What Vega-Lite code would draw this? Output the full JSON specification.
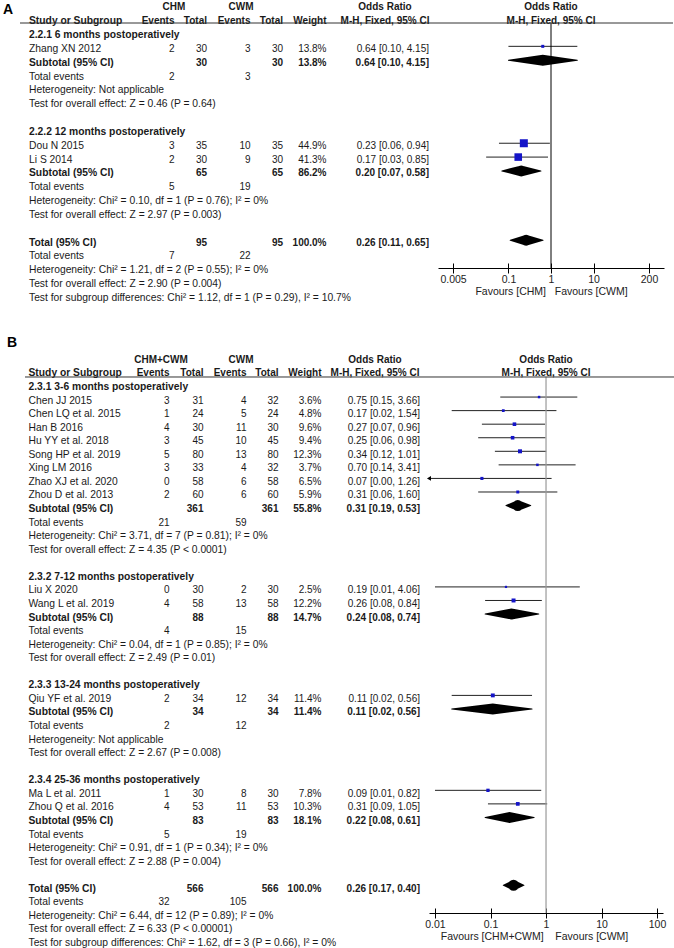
{
  "$schema": "https://vega.github.io/schema/vega-lite/v6.json",
  "padding": 0,
  "background": "white",
  "spacing": 0,
  "config": {"view": {"stroke": null}, "font": "Liberation Sans", "text": {"font": "Liberation Sans"}},
  "datasets": {
    "A": [
      {"row": -2, "kind": "top", "tag": "A", "g1": "CHM", "g2": "CWM", "orh": "Odds Ratio"},
      {"row": -1, "kind": "header", "label": "Study or Subgroup", "e1": "Events", "t1": "Total", "e2": "Events", "t2": "Total", "wt": "Weight", "orh": "M-H, Fixed, 95% CI"},
      {"row": 0, "kind": "group", "label": "2.2.1 6 months postoperatively"},
      {"row": 1, "kind": "study", "label": "Zhang XN 2012", "e1": "2", "t1": "30", "e2": "3", "t2": "30", "wt": "13.8%", "or": "0.64 [0.10, 4.15]", "est": 0.64, "lo": 0.10, "hi": 4.15, "w": 13.8},
      {"row": 2, "kind": "subtotal", "label": "Subtotal (95% CI)", "t1": "30", "t2": "30", "wt": "13.8%", "or": "0.64 [0.10, 4.15]", "est": 0.64, "lo": 0.10, "hi": 4.15},
      {"row": 3, "kind": "events", "label": "Total events", "e1": "2", "e2": "3"},
      {"row": 4, "kind": "het", "label": "Heterogeneity: Not applicable"},
      {"row": 5, "kind": "test", "label": "Test for overall effect: Z = 0.46 (P = 0.64)"},
      {"row": 7, "kind": "group", "label": "2.2.2 12 months postoperatively"},
      {"row": 8, "kind": "study", "label": "Dou N 2015", "e1": "3", "t1": "35", "e2": "10", "t2": "35", "wt": "44.9%", "or": "0.23 [0.06, 0.94]", "est": 0.23, "lo": 0.06, "hi": 0.94, "w": 44.9},
      {"row": 9, "kind": "study", "label": "Li S 2014", "e1": "2", "t1": "30", "e2": "9", "t2": "30", "wt": "41.3%", "or": "0.17 [0.03, 0.85]", "est": 0.17, "lo": 0.03, "hi": 0.85, "w": 41.3},
      {"row": 10, "kind": "subtotal", "label": "Subtotal (95% CI)", "t1": "65", "t2": "65", "wt": "86.2%", "or": "0.20 [0.07, 0.58]", "est": 0.20, "lo": 0.07, "hi": 0.58},
      {"row": 11, "kind": "events", "label": "Total events", "e1": "5", "e2": "19"},
      {"row": 12, "kind": "het", "label": "Heterogeneity: Chi² = 0.10, df = 1 (P = 0.76); I² = 0%"},
      {"row": 13, "kind": "test", "label": "Test for overall effect: Z = 2.97 (P = 0.003)"},
      {"row": 15, "kind": "total", "label": "Total (95% CI)", "t1": "95", "t2": "95", "wt": "100.0%", "or": "0.26 [0.11, 0.65]", "est": 0.26, "lo": 0.11, "hi": 0.65},
      {"row": 16, "kind": "events", "label": "Total events", "e1": "7", "e2": "22"},
      {"row": 17, "kind": "het", "label": "Heterogeneity: Chi² = 1.21, df = 2 (P = 0.55); I² = 0%"},
      {"row": 18, "kind": "test", "label": "Test for overall effect: Z = 2.90 (P = 0.004)"},
      {"row": 19, "kind": "subgroup", "label": "Test for subgroup differences: Chi² = 1.12, df = 1 (P = 0.29), I² = 10.7%"}
    ],
    "B": [
      {"row": -3, "kind": "letter", "tag": "B"},
      {"row": -2, "kind": "top", "g1": "CHM+CWM", "g2": "CWM", "orh": "Odds Ratio"},
      {"row": -1, "kind": "header", "label": "Study or Subgroup", "e1": "Events", "t1": "Total", "e2": "Events", "t2": "Total", "wt": "Weight", "orh": "M-H, Fixed, 95% CI"},
      {"row": 0, "kind": "group", "label": "2.3.1 3-6 months postoperatively"},
      {"row": 1, "kind": "study", "label": "Chen JJ 2015", "e1": "3", "t1": "31", "e2": "4", "t2": "32", "wt": "3.6%", "or": "0.75 [0.15, 3.66]", "est": 0.75, "lo": 0.15, "hi": 3.66, "w": 3.6},
      {"row": 2, "kind": "study", "label": "Chen LQ et al. 2015", "e1": "1", "t1": "24", "e2": "5", "t2": "24", "wt": "4.8%", "or": "0.17 [0.02, 1.54]", "est": 0.17, "lo": 0.02, "hi": 1.54, "w": 4.8},
      {"row": 3, "kind": "study", "label": "Han B 2016", "e1": "4", "t1": "30", "e2": "11", "t2": "30", "wt": "9.6%", "or": "0.27 [0.07, 0.96]", "est": 0.27, "lo": 0.07, "hi": 0.96, "w": 9.6},
      {"row": 4, "kind": "study", "label": "Hu YY et al. 2018", "e1": "3", "t1": "45", "e2": "10", "t2": "45", "wt": "9.4%", "or": "0.25 [0.06, 0.98]", "est": 0.25, "lo": 0.06, "hi": 0.98, "w": 9.4},
      {"row": 5, "kind": "study", "label": "Song HP et al. 2019", "e1": "5", "t1": "80", "e2": "13", "t2": "80", "wt": "12.3%", "or": "0.34 [0.12, 1.01]", "est": 0.34, "lo": 0.12, "hi": 1.01, "w": 12.3},
      {"row": 6, "kind": "study", "label": "Xing LM 2016", "e1": "3", "t1": "33", "e2": "4", "t2": "32", "wt": "3.7%", "or": "0.70 [0.14, 3.41]", "est": 0.70, "lo": 0.14, "hi": 3.41, "w": 3.7},
      {"row": 7, "kind": "study", "label": "Zhao XJ et al. 2020", "e1": "0", "t1": "58", "e2": "6", "t2": "58", "wt": "6.5%", "or": "0.07 [0.00, 1.26]", "est": 0.07, "lo": 0.004, "hi": 1.26, "w": 6.5},
      {"row": 8, "kind": "study", "label": "Zhou D et al. 2013", "e1": "2", "t1": "60", "e2": "6", "t2": "60", "wt": "5.9%", "or": "0.31 [0.06, 1.60]", "est": 0.31, "lo": 0.06, "hi": 1.60, "w": 5.9},
      {"row": 9, "kind": "subtotal", "label": "Subtotal (95% CI)", "t1": "361", "t2": "361", "wt": "55.8%", "or": "0.31 [0.19, 0.53]", "est": 0.31, "lo": 0.19, "hi": 0.53},
      {"row": 10, "kind": "events", "label": "Total events", "e1": "21", "e2": "59"},
      {"row": 11, "kind": "het", "label": "Heterogeneity: Chi² = 3.71, df = 7 (P = 0.81); I² = 0%"},
      {"row": 12, "kind": "test", "label": "Test for overall effect: Z = 4.35 (P < 0.0001)"},
      {"row": 14, "kind": "group", "label": "2.3.2 7-12 months postoperatively"},
      {"row": 15, "kind": "study", "label": "Liu X 2020", "e1": "0", "t1": "30", "e2": "2", "t2": "30", "wt": "2.5%", "or": "0.19 [0.01, 4.06]", "est": 0.19, "lo": 0.01, "hi": 4.06, "w": 2.5},
      {"row": 16, "kind": "study", "label": "Wang L et al. 2019", "e1": "4", "t1": "58", "e2": "13", "t2": "58", "wt": "12.2%", "or": "0.26 [0.08, 0.84]", "est": 0.26, "lo": 0.08, "hi": 0.84, "w": 12.2},
      {"row": 17, "kind": "subtotal", "label": "Subtotal (95% CI)", "t1": "88", "t2": "88", "wt": "14.7%", "or": "0.24 [0.08, 0.74]", "est": 0.24, "lo": 0.08, "hi": 0.74},
      {"row": 18, "kind": "events", "label": "Total events", "e1": "4", "e2": "15"},
      {"row": 19, "kind": "het", "label": "Heterogeneity: Chi² = 0.04, df = 1 (P = 0.85); I² = 0%"},
      {"row": 20, "kind": "test", "label": "Test for overall effect: Z = 2.49 (P = 0.01)"},
      {"row": 22, "kind": "group", "label": "2.3.3 13-24 months postoperatively"},
      {"row": 23, "kind": "study", "label": "Qiu YF et al. 2019", "e1": "2", "t1": "34", "e2": "12", "t2": "34", "wt": "11.4%", "or": "0.11 [0.02, 0.56]", "est": 0.11, "lo": 0.02, "hi": 0.56, "w": 11.4},
      {"row": 24, "kind": "subtotal", "label": "Subtotal (95% CI)", "t1": "34", "t2": "34", "wt": "11.4%", "or": "0.11 [0.02, 0.56]", "est": 0.11, "lo": 0.02, "hi": 0.56},
      {"row": 25, "kind": "events", "label": "Total events", "e1": "2", "e2": "12"},
      {"row": 26, "kind": "het", "label": "Heterogeneity: Not applicable"},
      {"row": 27, "kind": "test", "label": "Test for overall effect: Z = 2.67 (P = 0.008)"},
      {"row": 29, "kind": "group", "label": "2.3.4 25-36 months postoperatively"},
      {"row": 30, "kind": "study", "label": "Ma L et al. 2011", "e1": "1", "t1": "30", "e2": "8", "t2": "30", "wt": "7.8%", "or": "0.09 [0.01, 0.82]", "est": 0.09, "lo": 0.01, "hi": 0.82, "w": 7.8},
      {"row": 31, "kind": "study", "label": "Zhou Q et al. 2016", "e1": "4", "t1": "53", "e2": "11", "t2": "53", "wt": "10.3%", "or": "0.31 [0.09, 1.05]", "est": 0.31, "lo": 0.09, "hi": 1.05, "w": 10.3},
      {"row": 32, "kind": "subtotal", "label": "Subtotal (95% CI)", "t1": "83", "t2": "83", "wt": "18.1%", "or": "0.22 [0.08, 0.61]", "est": 0.22, "lo": 0.08, "hi": 0.61},
      {"row": 33, "kind": "events", "label": "Total events", "e1": "5", "e2": "19"},
      {"row": 34, "kind": "het", "label": "Heterogeneity: Chi² = 0.91, df = 1 (P = 0.34); I² = 0%"},
      {"row": 35, "kind": "test", "label": "Test for overall effect: Z = 2.88 (P = 0.004)"},
      {"row": 37, "kind": "total", "label": "Total (95% CI)", "t1": "566", "t2": "566", "wt": "100.0%", "or": "0.26 [0.17, 0.40]", "est": 0.26, "lo": 0.17, "hi": 0.40},
      {"row": 38, "kind": "events", "label": "Total events", "e1": "32", "e2": "105"},
      {"row": 39, "kind": "het", "label": "Heterogeneity: Chi² = 6.44, df = 12 (P = 0.89); I² = 0%"},
      {"row": 40, "kind": "test", "label": "Test for overall effect: Z = 6.33 (P < 0.00001)"},
      {"row": 41, "kind": "subgroup", "label": "Test for subgroup differences: Chi² = 1.62, df = 3 (P = 0.66), I² = 0%"}
    ]
  },
  "vconcat": [
    {
      "width": 674,
      "height": 320,
      "data": {"name": "A"},
      "encoding": {"y": {"field": "row", "type": "quantitative", "scale": {"domain": [0, 19], "range": [32.5, 295.5], "zero": false, "nice": false}, "axis": null}},
      "layer": [
        {"transform": [{"filter": "datum.kind == 'study'"}],
         "mark": {"type": "rule", "color": "#222", "strokeWidth": 1},
         "encoding": {"x": {"field": "lo", "type": "quantitative", "scale": {"type": "log", "domain": [0.00222, 450], "range": [438, 664], "clamp": true, "nice": false},
           "axis": {"orient": "bottom", "offset": -52, "values": [0.005, 0.1, 1, 10, 200], "format": "~g", "title": "Favours [CHM]\u00a0\u00a0\u00a0Favours [CWM]", "labelFont": "Liberation Sans", "labelFontSize": 10.5, "labelColor": "#222", "titleFont": "Liberation Sans", "titleFontSize": 10.5, "titleFontWeight": "normal", "titleColor": "#222", "domainColor": "#000", "tickColor": "#000", "tickSize": 5, "labelPadding": 1, "titlePadding": 2, "grid": false, "labelFlush": false, "labelOverlap": false}},
           "x2": {"field": "hi"}}},
        {"transform": [{"filter": "datum.kind == 'header'"}],
         "mark": {"type": "rule", "color": "#000", "strokeWidth": 1},
         "encoding": {"x": {"datum": 1, "type": "quantitative", "scale": {"type": "log", "domain": [0.00222, 450], "range": [438, 664], "clamp": true, "nice": false},
           "axis": {"orient": "bottom", "offset": -52, "values": [0.005, 0.1, 1, 10, 200], "labels": false, "domain": false, "title": null, "tickSize": -5, "tickColor": "#000", "grid": false}},
           "y": {"datum": -0.686, "type": "quantitative", "axis": null}, "y2": {"datum": 17.02}}},
        {"transform": [{"filter": "datum.kind == 'study'"}],
         "mark": {"type": "point", "shape": "square", "filled": true, "color": "#1414c8", "opacity": 1},
         "encoding": {"x": {"field": "est", "type": "quantitative", "scale": {"type": "log", "domain": [0.00222, 450], "range": [438, 664], "clamp": true, "nice": false}, "axis": null}, "size": {"field": "w", "type": "quantitative", "scale": {"domain": [13.8, 44.9], "range": [9, 64], "zero": false}, "legend": null}}},
        {"transform": [{"filter": "datum.kind == 'subtotal' || datum.kind == 'total'"}, {"fold": ["lo", "est", "hi"], "as": ["key", "v"]}],
         "mark": {"type": "trail", "color": "#000"},
         "encoding": {"x": {"field": "v", "type": "quantitative", "scale": {"type": "log", "domain": [0.00222, 450], "range": [438, 664], "clamp": true, "nice": false}, "axis": null}, "detail": {"field": "row", "type": "nominal"}, "size": {"condition": {"test": "datum.key == 'est'", "value": 11}, "value": 0}}},
        {"transform": [{"filter": "isValid(datum.orh)"}],
         "mark": {"type": "text", "align": "center", "baseline": "middle", "dy": 2.5, "fontSize": 10, "fontWeight": "bold", "color": "#1a1a1a"},
         "encoding": {"x": {"datum": 1, "type": "quantitative", "scale": {"type": "log", "domain": [0.00222, 450], "range": [438, 664], "clamp": true, "nice": false}, "axis": null}, "text": {"field": "orh", "type": "nominal"}}},
        {"transform": [{"filter": "isValid(datum.tag)"}],
         "mark": {"type": "text", "align": "left", "baseline": "middle", "dy": 5, "fontSize": 14, "fontWeight": "bold", "color": "#000"},
         "encoding": {"x": {"datum": "tag", "type": "nominal", "scale": {"type": "point", "domain": ["tag"], "range": [3, 3]}, "axis": null}, "text": {"field": "tag", "type": "nominal"}}},
        {"transform": [{"filter": "isValid(datum.label)"}],
         "mark": {"type": "text", "align": "left", "baseline": "middle", "dy": 2.5, "fontSize": 10.3, "color": "#1a1a1a", "fontWeight": {"expr": "indexof(['group','subtotal','total','header','top'], datum.kind) >= 0 ? 'bold' : 'normal'"}},
         "encoding": {"x": {"datum": "label", "type": "nominal", "scale": {"type": "point", "domain": ["label"], "range": [29, 29]}, "axis": null}, "text": {"field": "label", "type": "nominal"}}},
        {"transform": [{"filter": "isValid(datum.e1)"}],
         "mark": {"type": "text", "align": "right", "baseline": "middle", "dy": 2.5, "fontSize": 10, "color": "#1a1a1a", "fontWeight": {"expr": "indexof(['group','subtotal','total','header','top'], datum.kind) >= 0 ? 'bold' : 'normal'"}},
         "encoding": {"x": {"datum": "e1", "type": "nominal", "scale": {"type": "point", "domain": ["e1"], "range": [174.5, 174.5]}, "axis": null}, "text": {"field": "e1", "type": "nominal"}}},
        {"transform": [{"filter": "isValid(datum.t1)"}],
         "mark": {"type": "text", "align": "right", "baseline": "middle", "dy": 2.5, "fontSize": 10, "color": "#1a1a1a", "fontWeight": {"expr": "indexof(['group','subtotal','total','header','top'], datum.kind) >= 0 ? 'bold' : 'normal'"}},
         "encoding": {"x": {"datum": "t1", "type": "nominal", "scale": {"type": "point", "domain": ["t1"], "range": [207, 207]}, "axis": null}, "text": {"field": "t1", "type": "nominal"}}},
        {"transform": [{"filter": "isValid(datum.e2)"}],
         "mark": {"type": "text", "align": "right", "baseline": "middle", "dy": 2.5, "fontSize": 10, "color": "#1a1a1a", "fontWeight": {"expr": "indexof(['group','subtotal','total','header','top'], datum.kind) >= 0 ? 'bold' : 'normal'"}},
         "encoding": {"x": {"datum": "e2", "type": "nominal", "scale": {"type": "point", "domain": ["e2"], "range": [250.5, 250.5]}, "axis": null}, "text": {"field": "e2", "type": "nominal"}}},
        {"transform": [{"filter": "isValid(datum.t2)"}],
         "mark": {"type": "text", "align": "right", "baseline": "middle", "dy": 2.5, "fontSize": 10, "color": "#1a1a1a", "fontWeight": {"expr": "indexof(['group','subtotal','total','header','top'], datum.kind) >= 0 ? 'bold' : 'normal'"}},
         "encoding": {"x": {"datum": "t2", "type": "nominal", "scale": {"type": "point", "domain": ["t2"], "range": [283, 283]}, "axis": null}, "text": {"field": "t2", "type": "nominal"}}},
        {"transform": [{"filter": "isValid(datum.wt)"}],
         "mark": {"type": "text", "align": "right", "baseline": "middle", "dy": 2.5, "fontSize": 10, "color": "#1a1a1a", "fontWeight": {"expr": "indexof(['group','subtotal','total','header','top'], datum.kind) >= 0 ? 'bold' : 'normal'"}},
         "encoding": {"x": {"datum": "wt", "type": "nominal", "scale": {"type": "point", "domain": ["wt"], "range": [326.5, 326.5]}, "axis": null}, "text": {"field": "wt", "type": "nominal"}}},
        {"transform": [{"filter": "isValid(datum.or)"}],
         "mark": {"type": "text", "align": "right", "baseline": "middle", "dy": 2.5, "fontSize": 10, "color": "#1a1a1a", "fontWeight": {"expr": "indexof(['group','subtotal','total','header','top'], datum.kind) >= 0 ? 'bold' : 'normal'"}},
         "encoding": {"x": {"datum": "or", "type": "nominal", "scale": {"type": "point", "domain": ["or"], "range": [429, 429]}, "axis": null}, "text": {"field": "or", "type": "nominal"}}},
        {"transform": [{"filter": "isValid(datum.g1)"}],
         "mark": {"type": "text", "align": "center", "baseline": "middle", "dy": 2.5, "fontSize": 10, "color": "#1a1a1a", "fontWeight": "bold"},
         "encoding": {"x": {"datum": "g1", "type": "nominal", "scale": {"type": "point", "domain": ["g1"], "range": [174, 174]}, "axis": null}, "text": {"field": "g1", "type": "nominal"}}},
        {"transform": [{"filter": "isValid(datum.g2)"}],
         "mark": {"type": "text", "align": "center", "baseline": "middle", "dy": 2.5, "fontSize": 10, "color": "#1a1a1a", "fontWeight": "bold"},
         "encoding": {"x": {"datum": "g2", "type": "nominal", "scale": {"type": "point", "domain": ["g2"], "range": [241, 241]}, "axis": null}, "text": {"field": "g2", "type": "nominal"}}},
        {"transform": [{"filter": "isValid(datum.orh)"}],
         "mark": {"type": "text", "align": "center", "baseline": "middle", "dy": 2.5, "fontSize": 10, "color": "#1a1a1a", "fontWeight": "bold"},
         "encoding": {"x": {"datum": "orh", "type": "nominal", "scale": {"type": "point", "domain": ["orh"], "range": [385, 385]}, "axis": null}, "text": {"field": "orh", "type": "nominal"}}},
        {"transform": [{"filter": "datum.kind == 'header'"}],
         "mark": {"type": "rule", "color": "#333", "strokeWidth": 1},
         "encoding": {"x": {"datum": "u0", "type": "nominal", "scale": {"type": "point", "domain": ["u0", "u1"], "range": [20, 673], "padding": 0}, "axis": null}, "x2": {"datum": "u1"}, "y": {"datum": -0.686, "type": "quantitative", "axis": null}}}
      ],
      "resolve": {"scale": {"x": "independent", "size": "independent"}, "axis": {"x": "independent"}}
    },
    {
      "width": 674,
      "height": 628,
      "data": {"name": "B"},
      "encoding": {"y": {"field": "row", "type": "quantitative", "scale": {"domain": [0, 41], "range": [63.5, 619.5], "zero": false, "nice": false}, "axis": null}},
      "layer": [
        {"transform": [{"filter": "datum.kind == 'study'"}],
         "mark": {"type": "rule", "color": "#222", "strokeWidth": 1},
         "encoding": {"x": {"field": "lo", "type": "quantitative", "scale": {"type": "log", "domain": [0.0078, 128], "range": [429, 663], "clamp": true, "nice": false},
           "axis": {"orient": "bottom", "offset": -35, "values": [0.01, 0.1, 1, 10, 100], "format": "~g", "title": "Favours [CHM+CWM]\u00a0\u00a0\u00a0\u00a0Favours [CWM]", "titleX": 534, "titleAlign": "center", "labelFont": "Liberation Sans", "labelFontSize": 10.5, "labelColor": "#222", "titleFont": "Liberation Sans", "titleFontSize": 10.5, "titleFontWeight": "normal", "titleColor": "#222", "domainColor": "#000", "tickColor": "#000", "tickSize": 5, "labelPadding": 1, "titlePadding": 2, "grid": false, "labelFlush": false, "labelOverlap": false}},
           "x2": {"field": "hi"}}},
        {"transform": [{"filter": "datum.kind == 'header'"}],
         "mark": {"type": "rule", "color": "#999", "strokeWidth": 1.2},
         "encoding": {"x": {"datum": 1, "type": "quantitative", "scale": {"type": "log", "domain": [0.0078, 128], "range": [429, 663], "clamp": true, "nice": false},
           "axis": {"orient": "bottom", "offset": -35, "values": [0.01, 0.1, 1, 10, 100], "labels": false, "domain": false, "title": null, "tickSize": -5, "tickColor": "#000", "grid": false}},
           "y": {"datum": -0.48, "type": "quantitative", "axis": null}, "y2": {"datum": 39.05}}},
        {"transform": [{"filter": "datum.kind == 'study' && datum.lo < 0.0078"}],
         "mark": {"type": "point", "shape": "triangle-left", "filled": true, "color": "#000", "opacity": 1, "size": 22},
         "encoding": {"x": {"field": "lo", "type": "quantitative", "scale": {"type": "log", "domain": [0.0078, 128], "range": [429, 663], "clamp": true, "nice": false}, "axis": null}}},
        {"transform": [{"filter": "datum.kind == 'study'"}],
         "mark": {"type": "point", "shape": "square", "filled": true, "color": "#1414c8", "opacity": 1},
         "encoding": {"x": {"field": "est", "type": "quantitative", "scale": {"type": "log", "domain": [0.0078, 128], "range": [429, 663], "clamp": true, "nice": false}, "axis": null}, "size": {"field": "w", "type": "quantitative", "scale": {"domain": [2.5, 12.3], "range": [5, 16], "zero": false}, "legend": null}}},
        {"transform": [{"filter": "datum.kind == 'subtotal' || datum.kind == 'total'"}, {"fold": ["lo", "est", "hi"], "as": ["key", "v"]}],
         "mark": {"type": "trail", "color": "#000"},
         "encoding": {"x": {"field": "v", "type": "quantitative", "scale": {"type": "log", "domain": [0.0078, 128], "range": [429, 663], "clamp": true, "nice": false}, "axis": null}, "detail": {"field": "row", "type": "nominal"}, "size": {"condition": {"test": "datum.key == 'est'", "value": 11}, "value": 0}}},
        {"transform": [{"filter": "isValid(datum.orh)"}],
         "mark": {"type": "text", "align": "center", "baseline": "middle", "dy": 3.5, "fontSize": 10, "fontWeight": "bold", "color": "#1a1a1a"},
         "encoding": {"x": {"datum": 1, "type": "quantitative", "scale": {"type": "log", "domain": [0.0078, 128], "range": [429, 663], "clamp": true, "nice": false}, "axis": null}, "text": {"field": "orh", "type": "nominal"}}},
        {"transform": [{"filter": "isValid(datum.tag)"}],
         "mark": {"type": "text", "align": "left", "baseline": "middle", "dy": 0.5, "fontSize": 14, "fontWeight": "bold", "color": "#000"},
         "encoding": {"x": {"datum": "tag", "type": "nominal", "scale": {"type": "point", "domain": ["tag"], "range": [7, 7]}, "axis": null}, "text": {"field": "tag", "type": "nominal"}}},
        {"transform": [{"filter": "isValid(datum.label)"}],
         "mark": {"type": "text", "align": "left", "baseline": "middle", "dy": 3.5, "fontSize": 10.3, "color": "#1a1a1a", "fontWeight": {"expr": "indexof(['group','subtotal','total','header','top'], datum.kind) >= 0 ? 'bold' : 'normal'"}},
         "encoding": {"x": {"datum": "label", "type": "nominal", "scale": {"type": "point", "domain": ["label"], "range": [28.5, 28.5]}, "axis": null}, "text": {"field": "label", "type": "nominal"}}},
        {"transform": [{"filter": "isValid(datum.e1)"}],
         "mark": {"type": "text", "align": "right", "baseline": "middle", "dy": 3.5, "fontSize": 10, "color": "#1a1a1a", "fontWeight": {"expr": "indexof(['group','subtotal','total','header','top'], datum.kind) >= 0 ? 'bold' : 'normal'"}},
         "encoding": {"x": {"datum": "e1", "type": "nominal", "scale": {"type": "point", "domain": ["e1"], "range": [169.5, 169.5]}, "axis": null}, "text": {"field": "e1", "type": "nominal"}}},
        {"transform": [{"filter": "isValid(datum.t1)"}],
         "mark": {"type": "text", "align": "right", "baseline": "middle", "dy": 3.5, "fontSize": 10, "color": "#1a1a1a", "fontWeight": {"expr": "indexof(['group','subtotal','total','header','top'], datum.kind) >= 0 ? 'bold' : 'normal'"}},
         "encoding": {"x": {"datum": "t1", "type": "nominal", "scale": {"type": "point", "domain": ["t1"], "range": [203.5, 203.5]}, "axis": null}, "text": {"field": "t1", "type": "nominal"}}},
        {"transform": [{"filter": "isValid(datum.e2)"}],
         "mark": {"type": "text", "align": "right", "baseline": "middle", "dy": 3.5, "fontSize": 10, "color": "#1a1a1a", "fontWeight": {"expr": "indexof(['group','subtotal','total','header','top'], datum.kind) >= 0 ? 'bold' : 'normal'"}},
         "encoding": {"x": {"datum": "e2", "type": "nominal", "scale": {"type": "point", "domain": ["e2"], "range": [246.5, 246.5]}, "axis": null}, "text": {"field": "e2", "type": "nominal"}}},
        {"transform": [{"filter": "isValid(datum.t2)"}],
         "mark": {"type": "text", "align": "right", "baseline": "middle", "dy": 3.5, "fontSize": 10, "color": "#1a1a1a", "fontWeight": {"expr": "indexof(['group','subtotal','total','header','top'], datum.kind) >= 0 ? 'bold' : 'normal'"}},
         "encoding": {"x": {"datum": "t2", "type": "nominal", "scale": {"type": "point", "domain": ["t2"], "range": [278.5, 278.5]}, "axis": null}, "text": {"field": "t2", "type": "nominal"}}},
        {"transform": [{"filter": "isValid(datum.wt)"}],
         "mark": {"type": "text", "align": "right", "baseline": "middle", "dy": 3.5, "fontSize": 10, "color": "#1a1a1a", "fontWeight": {"expr": "indexof(['group','subtotal','total','header','top'], datum.kind) >= 0 ? 'bold' : 'normal'"}},
         "encoding": {"x": {"datum": "wt", "type": "nominal", "scale": {"type": "point", "domain": ["wt"], "range": [321.5, 321.5]}, "axis": null}, "text": {"field": "wt", "type": "nominal"}}},
        {"transform": [{"filter": "isValid(datum.or)"}],
         "mark": {"type": "text", "align": "right", "baseline": "middle", "dy": 3.5, "fontSize": 10, "color": "#1a1a1a", "fontWeight": {"expr": "indexof(['group','subtotal','total','header','top'], datum.kind) >= 0 ? 'bold' : 'normal'"}},
         "encoding": {"x": {"datum": "or", "type": "nominal", "scale": {"type": "point", "domain": ["or"], "range": [420, 420]}, "axis": null}, "text": {"field": "or", "type": "nominal"}}},
        {"transform": [{"filter": "isValid(datum.g1)"}],
         "mark": {"type": "text", "align": "center", "baseline": "middle", "dy": 3.5, "fontSize": 10, "color": "#1a1a1a", "fontWeight": "bold"},
         "encoding": {"x": {"datum": "g1", "type": "nominal", "scale": {"type": "point", "domain": ["g1"], "range": [161, 161]}, "axis": null}, "text": {"field": "g1", "type": "nominal"}}},
        {"transform": [{"filter": "isValid(datum.g2)"}],
         "mark": {"type": "text", "align": "center", "baseline": "middle", "dy": 3.5, "fontSize": 10, "color": "#1a1a1a", "fontWeight": "bold"},
         "encoding": {"x": {"datum": "g2", "type": "nominal", "scale": {"type": "point", "domain": ["g2"], "range": [241, 241]}, "axis": null}, "text": {"field": "g2", "type": "nominal"}}},
        {"transform": [{"filter": "isValid(datum.orh)"}],
         "mark": {"type": "text", "align": "center", "baseline": "middle", "dy": 3.5, "fontSize": 10, "color": "#1a1a1a", "fontWeight": "bold"},
         "encoding": {"x": {"datum": "orh", "type": "nominal", "scale": {"type": "point", "domain": ["orh"], "range": [375, 375]}, "axis": null}, "text": {"field": "orh", "type": "nominal"}}},
        {"transform": [{"filter": "datum.kind == 'header'"}],
         "mark": {"type": "rule", "color": "#333", "strokeWidth": 1},
         "encoding": {"x": {"datum": "u0", "type": "nominal", "scale": {"type": "point", "domain": ["u0", "u1"], "range": [25, 674], "padding": 0}, "axis": null}, "x2": {"datum": "u1"}, "y": {"datum": -0.48, "type": "quantitative", "axis": null}}}
      ],
      "resolve": {"scale": {"x": "independent", "size": "independent"}, "axis": {"x": "independent"}}
    }
  ]
}
